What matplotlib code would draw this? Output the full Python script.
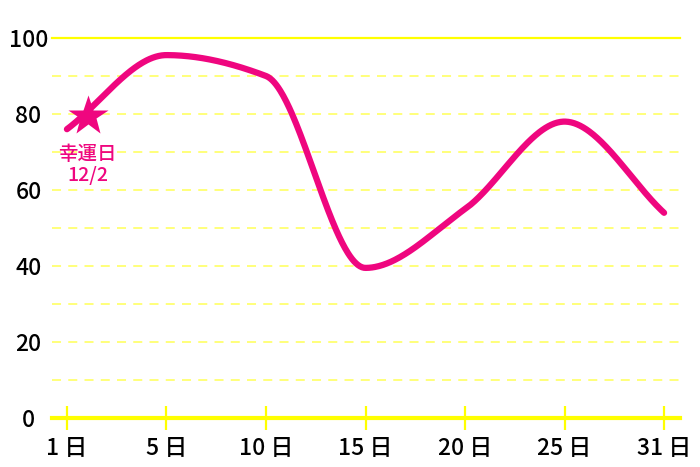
import numpy as np
import matplotlib
matplotlib.use('Agg')
import matplotlib.pyplot as plt

plt.rcParams['font.family'] = ['Noto Sans CJK JP', 'DejaVu Sans']

# data
days = ['1 日', '5 日', '10 日', '15 日', '20 日', '25 日', '31 日']
values = [76, 95.5, 90, 39.5, 55, 78, 54]
y_ticks = [0, 20, 40, 60, 80, 100]
minor_grid = [10, 20, 30, 40, 50, 60, 70, 80, 90]
lucky_x, lucky_y = 0.21, 79.5
lucky_label = '幸運日\n12/2'

pink = '#EF067F'
yellow = '#FFFF00'
pale_yellow = '#FFFF70'


def pchip(x, y, xs):
    # monotone cubic (Fritsch-Carlson) for the smooth line
    x = np.asarray(x, float)
    y = np.asarray(y, float)
    h = np.diff(x)
    d = np.diff(y) / h
    m = np.zeros_like(y)
    for k in range(1, len(y) - 1):
        if d[k - 1] * d[k] > 0:
            w1 = 2 * h[k] + h[k - 1]
            w2 = h[k] + 2 * h[k - 1]
            m[k] = (w1 + w2) / (w1 / d[k - 1] + w2 / d[k])
    m[0] = d[0]
    m[-1] = d[-1]
    idx = np.clip(np.searchsorted(x, xs) - 1, 0, len(x) - 2)
    t = (xs - x[idx]) / h[idx]
    h00 = 2 * t**3 - 3 * t**2 + 1
    h10 = t**3 - 2 * t**2 + t
    h01 = -2 * t**3 + 3 * t**2
    h11 = t**3 - t**2
    return h00 * y[idx] + h10 * h[idx] * m[idx] + h01 * y[idx + 1] + h11 * h[idx] * m[idx + 1]


fig = plt.figure(figsize=(7, 4.67), dpi=100)
ax = fig.add_axes([52 / 700, 1 - 418 / 467, 628 / 700, 380 / 467])

xi = np.arange(len(days))
xs = np.linspace(0, len(days) - 1, 600)

for g in minor_grid:
    ax.axhline(g, color=pale_yellow, lw=1.3, ls=(0, (5, 4)), zorder=1)
ax.axhline(100, color=yellow, lw=1.6, zorder=1, clip_on=False)

ax.plot(xs, pchip(xi, values, xs), color=pink, lw=4.5, solid_capstyle='round', zorder=3)
ax.plot(lucky_x, lucky_y, marker='*', ms=30, color=pink, mec='none', zorder=4)
ax.text(lucky_x, 66.5, lucky_label, color=pink, fontsize=14, fontweight='medium',
        ha='center', va='center', linespacing=1.15, zorder=5)

ax.set_xlim(-0.15, 6.16)
ax.set_ylim(0, 100)
ax.set_xticks(xi, days)
ax.set_yticks(y_ticks, [str(v) for v in y_ticks])

for s in ['top', 'right', 'left']:
    ax.spines[s].set_visible(False)
ax.spines['bottom'].set_color(yellow)
ax.spines['bottom'].set_linewidth(3)
ax.spines['bottom'].set_zorder(2)

ax.tick_params(axis='x', direction='inout', length=17.5, width=1.6, color=yellow,
               labelsize=16.5, pad=5)
ax.tick_params(axis='y', length=0, labelsize=16.5, pad=17)
for lab in ax.get_xticklabels() + ax.get_yticklabels():
    lab.set_ha('center')
    lab.set_fontweight('medium')

fig.savefig('out.png', dpi=100)
